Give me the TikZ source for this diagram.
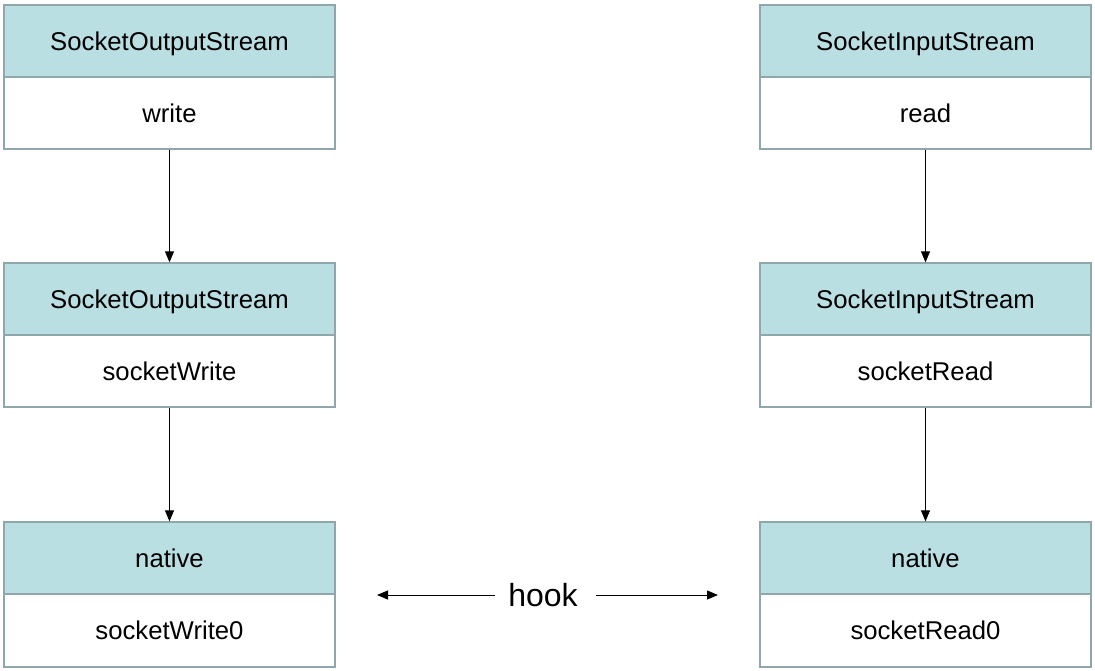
\documentclass[tikz,border=0pt]{standalone}
\usepackage{fontspec}
\setmainfont{Liberation Sans}
\usetikzlibrary{arrows.meta}
\definecolor{hdr}{HTML}{BADFE3}
\definecolor{bdr}{HTML}{8FA7AA}
\tikzset{
  hdrbox/.style={draw=bdr, line width=1.3pt, fill=hdr, minimum width=331pt, minimum height=72pt, inner sep=0pt, text height=18.4pt, text depth=0pt, font=\fontsize{25.7}{30}\selectfont},
  bodybox/.style={draw=bdr, line width=1.3pt, fill=white, minimum width=331pt, minimum height=72pt, inner sep=0pt, text height=18.4pt, text depth=0pt, font=\fontsize{25.7}{30}\selectfont},
  conn/.style={line width=0.9pt, -{Triangle[length=11pt,width=9pt]}}
}
\begin{document}
\begin{tikzpicture}[x=1pt,y=-1pt]
\useasboundingbox (0,0) rectangle (1095,671);
% left column
\node[bodybox] (lb1) at (169.5,113) {write};
\node[hdrbox] (lh1) at (169.5,41) {SocketOutputStream};
\node[bodybox] (lb2) at (169.5,371) {socketWrite};
\node[hdrbox] (lh2) at (169.5,299) {SocketOutputStream};
\node[bodybox,minimum height=73pt] (lb3) at (169.5,630.5) {socketWrite0};
\node[hdrbox] (lh3) at (169.5,558) {native};
% right column
\node[bodybox] (rb1) at (925.5,113) {read};
\node[hdrbox] (rh1) at (925.5,41) {SocketInputStream};
\node[bodybox] (rb2) at (925.5,371) {socketRead};
\node[hdrbox] (rh2) at (925.5,299) {SocketInputStream};
\node[bodybox,minimum height=73pt] (rb3) at (925.5,630.5) {socketRead0};
\node[hdrbox] (rh3) at (925.5,558) {native};
% connectors
\draw[conn] (lb1) -- (lh2);
\draw[conn] (lb2) -- (lh3);
\draw[conn] (rb1) -- (rh2);
\draw[conn] (rb2) -- (rh3);
% hook
\node[font=\fontsize{32}{38}\selectfont, inner sep=0pt, text height=23pt, text depth=0pt] (hook) at (543,595) {hook};
\coordinate (hl) at (377,595);
\coordinate (hr) at (718,595);
\draw[conn] (hook.west) ++(-13,0) coordinate (hls) -- (hl);
\draw[conn] (hook.east) ++(18,0) coordinate (hrs) -- (hr);
\end{tikzpicture}
\end{document}
